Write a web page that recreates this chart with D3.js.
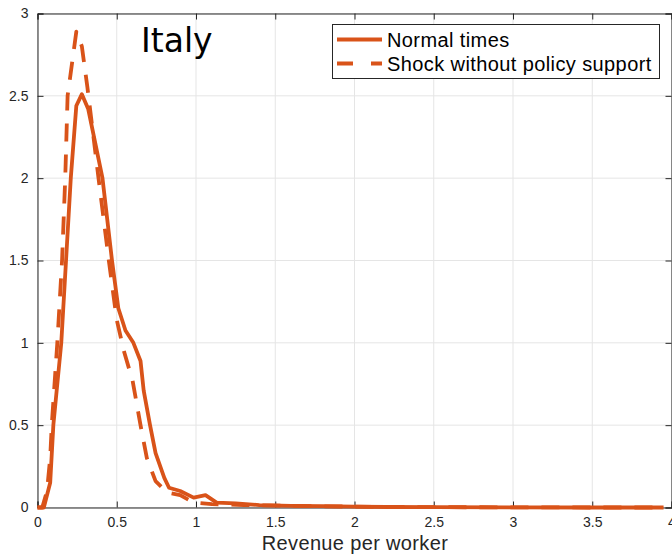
<!DOCTYPE html>
<html><head><meta charset="utf-8">
<script src="https://cdn.jsdelivr.net/npm/d3@7"></script>
<style>
html,body{margin:0;padding:0;background:#fff;}
svg{display:block;}
text{font-family:"Liberation Sans",Arial,Helvetica,sans-serif;}
</style></head>
<body>
<svg id="chart" width="672" height="555"></svg>
<script>
// ---- data ----
const normalX = [0, 0.04, 0.08, 0.10, 0.15, 0.18, 0.21, 0.245, 0.28, 0.32, 0.41, 0.47, 0.51, 0.555, 0.605, 0.65, 0.67, 0.71, 0.745, 0.80, 0.83, 0.90, 0.985, 1.06, 1.13, 1.25, 1.4, 1.6, 1.8, 2.0, 2.2, 2.5, 3.0, 3.5, 3.95];
const normalY = [0, 0, 0.15, 0.5, 1.0, 1.5, 2.0, 2.44, 2.51, 2.42, 2.0, 1.5, 1.21, 1.075, 1.0, 0.89, 0.71, 0.5, 0.33, 0.18, 0.12, 0.10, 0.06, 0.075, 0.03, 0.025, 0.015, 0.01, 0.008, 0.005, 0.003, 0.002, 0.001, 0, 0];
const shockX = [0, 0.03, 0.06, 0.08, 0.09, 0.125, 0.155, 0.175, 0.19, 0.245, 0.28, 0.315, 0.385, 0.45, 0.50, 0.545, 0.60, 0.65, 0.69, 0.745, 0.82, 0.90, 0.985, 1.1, 1.3, 1.6, 2.0, 2.5, 3.0, 3.5, 3.95];
const shockY = [0, 0, 0.1, 0.3, 0.5, 1.0, 1.5, 2.0, 2.5, 2.89, 2.8, 2.55, 2.0, 1.5, 1.14, 0.95, 0.77, 0.5, 0.30, 0.16, 0.09, 0.075, 0.03, 0.02, 0.015, 0.01, 0.005, 0.002, 0.001, 0, 0];
const xTicks = [0, 0.5, 1, 1.5, 2, 2.5, 3, 3.5, 4];
const yTicks = [0, 0.5, 1, 1.5, 2, 2.5, 3];
const seriesNames = ["Normal times", "Shock without policy support"];
const title = "Italy";
const xLabel = "Revenue per worker";

// ---- layout ----
const svg = d3.select("#chart");
const L = 37.5, R = 671.5, T = 13.5, B = 507.5;
const x = d3.scaleLinear().domain([0, 4]).range([L, R]);
const y = d3.scaleLinear().domain([0, 3]).range([B, T]);
const color = "#D95319";
const axisCol = "#262626";

// grid
svg.append("g").selectAll("line").data(xTicks).join("line")
  .attr("x1", d => x(d)).attr("x2", d => x(d)).attr("y1", T).attr("y2", B)
  .attr("stroke", "#e5e5e5").attr("stroke-width", 1);
svg.append("g").selectAll("line").data(yTicks).join("line")
  .attr("y1", d => y(d)).attr("y2", d => y(d)).attr("x1", L).attr("x2", R)
  .attr("stroke", "#e5e5e5").attr("stroke-width", 1);

// axes (ticks inside)
const xAxis = d3.axisBottom(x).tickValues(xTicks).tickSize(-6).tickPadding(10).tickFormat(d3.format("~g"));
const yAxis = d3.axisLeft(y).tickValues(yTicks).tickSize(-6).tickPadding(9).tickFormat(d3.format("~g"));
const gx = svg.append("g").attr("transform", `translate(0,${B})`).call(xAxis);
const gy = svg.append("g").attr("transform", `translate(${L},0)`).call(yAxis);
const gxt = svg.append("g").attr("transform", `translate(0,${T})`).call(d3.axisTop(x).tickValues(xTicks).tickSize(-6).tickFormat(""));
const gyr = svg.append("g").attr("transform", `translate(${R},0)`).call(d3.axisRight(y).tickValues(yTicks).tickSize(-6).tickFormat(""));
[gx, gy, gxt, gyr].forEach(g => {
  g.select(".domain").attr("stroke", axisCol).attr("stroke-width", 1);
  g.selectAll(".tick line").attr("stroke", axisCol);
  g.selectAll(".tick text").attr("fill", axisCol).style("font-size", "14px")
    .style("font-family", '"Liberation Sans", Arial, sans-serif');
});

// lines
const line = d3.line().x(d => x(d[0])).y(d => y(d[1]));
const normalData = normalX.map((v, i) => [v, normalY[i]]);
const shockData = shockX.map((v, i) => [v, shockY[i]]);
svg.append("path").datum(normalData).attr("d", line)
  .attr("fill", "none").attr("stroke", color).attr("stroke-width", 3.8).attr("stroke-linejoin", "round");
svg.append("path").datum(shockData).attr("d", line)
  .attr("fill", "none").attr("stroke", color).attr("stroke-width", 3.8)
  .attr("stroke-dasharray", "18,13").attr("stroke-linejoin", "round");

// title
svg.append("text").attr("x", 141).attr("y", 52).text(title)
  .style("font-family", '"DejaVu Sans", sans-serif').style("font-size", "33px").attr("fill", "#000");

// x label
svg.append("text").attr("x", 355).attr("y", 550).attr("text-anchor", "middle")
  .text(xLabel).style("font-size", "20px").style("letter-spacing", "0.35px").attr("fill", axisCol);

// legend
const lg = svg.append("g");
lg.append("rect").attr("x", 332.5).attr("y", 24.5).attr("width", 327).attr("height", 54)
  .attr("fill", "#fff").attr("stroke", axisCol).attr("stroke-width", 1);
const legY = [39.5, 63.5];
seriesNames.forEach((name, i) => {
  const ln = lg.append("line").attr("x1", 337).attr("x2", 382).attr("y1", legY[i]).attr("y2", legY[i])
    .attr("stroke", color).attr("stroke-width", 3.8);
  if (i === 1) ln.attr("stroke-dasharray", "16,18");
  lg.append("text").attr("x", 387).attr("y", legY[i] + 7).text(name)
    .style("font-size", "20px").style("letter-spacing", "0.4px").attr("fill", "#000");
});
</script>
</body></html>
